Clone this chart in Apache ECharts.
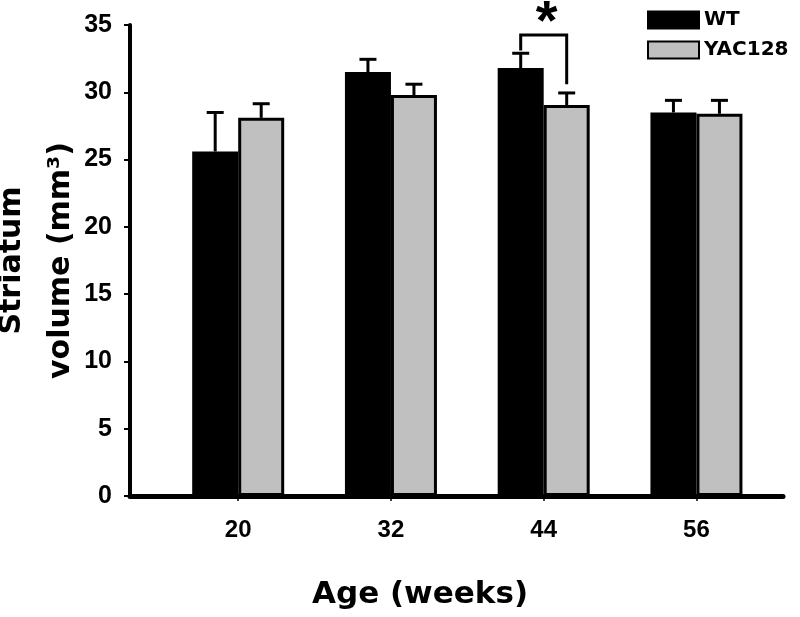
<!DOCTYPE html>
<html>
<head>
<meta charset="utf-8">
<script src="https://cdn.jsdelivr.net/npm/echarts@6/dist/echarts.min.js"></script>
<style>
  html, body { margin: 0; padding: 0; background: #fff; }
  #chart { width: 800px; height: 617px; }
</style>
</head>
<body>
<div id="chart"></div>
<script>
    'use strict';

    // data
    var ages = [20, 32, 44, 56];
    var wtMean = [25.6, 31.5, 31.8, 28.5];
    var wtErr = [2.9, 0.95, 1.1, 0.9];
    var yacMean = [28.1, 29.8, 29.05, 28.4];
    var yacErr = [1.05, 0.8, 0.9, 1.0];
    var yTicks = [0, 5, 10, 15, 20, 25, 30, 35];
    // significance bracket at 44 weeks: [age, top, left leg end, right leg end]
    var sigBracket = [[44, 34.25, 33.1, 30.6]];

    var BAR_W = 46;
    var half = BAR_W / 2;
    var titleFont = '"DejaVu Sans", sans-serif';
    var tickFont = '"Liberation Sans", Arial, sans-serif';

    function pairs(xs, ys) {
        return xs.map(function (x, i) { return [x, ys[i]]; });
    }

    function errRender(offset) {
        return function (params, api) {
            var base = api.coord([api.value(0), api.value(1)]);
            var top = api.coord([api.value(0), api.value(1) + api.value(2)]);
            var x = base[0] + offset;
            var style = { stroke: '#000', lineWidth: 3 };
            return {
                type: 'group',
                children: [
                    { type: 'line', shape: { x1: x, y1: base[1], x2: x, y2: top[1] }, style: style },
                    { type: 'line', shape: { x1: x - 8.5, y1: top[1], x2: x + 8.5, y2: top[1] }, style: style }
                ]
            };
        };
    }

    var chart = echarts.init(document.getElementById('chart'));

    chart.setOption({
        animation: false,
        backgroundColor: '#fff',
        grid: { left: 130, right: 17, top: 25, bottom: 121, containLabel: false, outerBoundsMode: 'none' },
        legend: {
            orient: 'vertical',
            left: 642,
            top: 5,
            itemWidth: 51,
            itemHeight: 17,
            itemGap: 10,
            icon: 'rect',
            textStyle: { fontFamily: titleFont, fontWeight: 'bold', fontSize: 20, color: '#000' },
            data: ['WT', 'YAC128']
        },
        xAxis: {
            type: 'value',
            min: 11.5,
            max: 62.8,
            splitLine: { show: false },
            axisLine: { show: true, onZero: false, lineStyle: { color: '#000', width: 5 } },
            axisTick: { show: true, customValues: ages, length: 5, lineStyle: { color: '#000', width: 1.5 } },
            axisLabel: {
                customValues: ages,
                margin: 22,
                fontFamily: tickFont,
                fontWeight: 'bold',
                fontSize: 24,
                color: '#000'
            },
            name: 'Age (weeks)',
            nameLocation: 'middle',
            nameGap: 83,
            nameMoveOverlap: false,
            nameTextStyle: {
                fontFamily: titleFont,
                fontWeight: 'bold',
                fontSize: 31,
                color: '#000',
                padding: [0, 73, 0, 0]
            }
        },
        yAxis: {
            type: 'value',
            min: 0,
            max: 35,
            interval: 5,
            splitLine: { show: false },
            axisLine: { show: true, lineStyle: { color: '#000', width: 4 } },
            axisTick: { show: true, length: 6, lineStyle: { color: '#000', width: 2 } },
            axisLabel: {
                margin: 18,
                fontFamily: tickFont,
                fontWeight: 'bold',
                fontSize: 25,
                color: '#000',
                formatter: function (v) { return yTicks.indexOf(v) >= 0 ? String(v) : ''; }
            },
            name: 'Striatum\nvolume (mm³)',
            nameLocation: 'middle',
            nameRotate: 90,
            nameGap: 44,
            nameMoveOverlap: false,
            nameTextStyle: {
                fontFamily: titleFont,
                fontWeight: 'bold',
                fontSize: 30,
                lineHeight: 49,
                color: '#000'
            }
        },
        series: [
            {
                name: 'WT',
                type: 'bar',
                barWidth: BAR_W,
                barGap: '0%',
                itemStyle: { color: '#000', borderColor: '#000', borderWidth: 3 },
                data: pairs(ages, wtMean)
            },
            {
                name: 'YAC128',
                type: 'bar',
                barWidth: BAR_W,
                itemStyle: { color: '#c0c0c0', borderColor: '#000', borderWidth: 3 },
                data: pairs(ages, yacMean)
            },
            {
                type: 'custom',
                renderItem: errRender(-half),
                data: ages.map(function (a, i) { return [a, wtMean[i], wtErr[i]]; }),
                z: 3
            },
            {
                type: 'custom',
                renderItem: errRender(half),
                data: ages.map(function (a, i) { return [a, yacMean[i], yacErr[i]]; }),
                z: 3
            },
            {
                type: 'custom',
                clip: false,
                z: 3,
                data: sigBracket,
                renderItem: function (params, api) {
                    var a = api.value(0);
                    var topPt = api.coord([a, api.value(1)]);
                    var leftEnd = api.coord([a, api.value(2)]);
                    var rightEnd = api.coord([a, api.value(3)]);
                    var xl = topPt[0] - half;
                    var xr = topPt[0] + half;
                    return {
                        type: 'group',
                        children: [
                            {
                                type: 'polyline',
                                shape: { points: [[xl, leftEnd[1]], [xl, topPt[1]], [xr, topPt[1]], [xr, rightEnd[1]]] },
                                style: { stroke: '#000', lineWidth: 3, fill: null }
                            },
                            {
                                type: 'text',
                                x: topPt[0] + 3,
                                y: topPt[1] - 12,
                                style: {
                                    text: '*',
                                    fontFamily: tickFont,
                                    fontWeight: 'bold',
                                    fontSize: 56,
                                    fill: '#000',
                                    align: 'center',
                                    verticalAlign: 'middle'
                                }
                            }
                        ]
                    };
                }
            }
        ]
    });
</script>
</body>
</html>
